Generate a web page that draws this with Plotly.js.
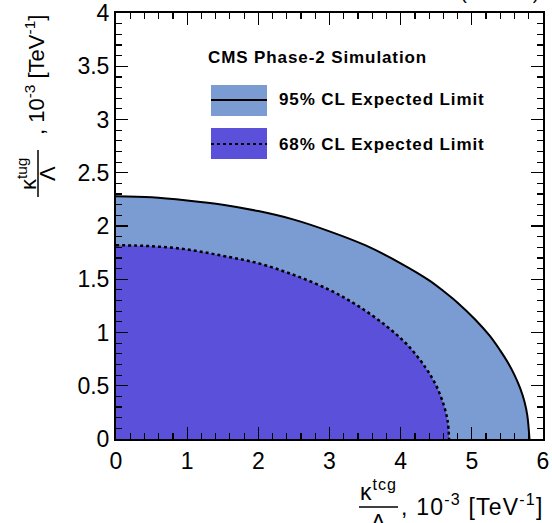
<!DOCTYPE html>
<html><head><meta charset="utf-8">
<script src="https://cdn.plot.ly/plotly-3.0.1.min.js"></script>
<style>
html,body{margin:0;padding:0;background:#fff}
#plot{width:552px;height:523px}
.annotation[data-index="0"] text,
.annotation[data-index="1"] text,
.annotation[data-index="2"] text{letter-spacing:0.9px}
.annotation[data-index="3"] text{letter-spacing:1px}
.annotation[data-index="4"] text{letter-spacing:1px}
.annotation[data-index="6"] text{letter-spacing:1.2px}
</style>
</head><body><div id="plot"></div>
<script>
// ---- data ----
const x95 = [0, 0.5, 1.0, 1.5, 2.0, 2.5, 3.0, 3.5, 4.0, 4.4, 4.6, 4.8, 5.05, 5.25, 5.4, 5.5, 5.6, 5.68, 5.74, 5.78, 5.81];
const y95 = [2.28, 2.27, 2.24, 2.20, 2.14, 2.06, 1.95, 1.82, 1.65, 1.49, 1.39, 1.28, 1.12, 0.97, 0.83, 0.725, 0.60, 0.475, 0.35, 0.22, 0];
const x68 = [0, 0.5, 1.0, 1.5, 2.0, 2.5, 3.0, 3.4, 3.8, 4.1, 4.35, 4.5, 4.6, 4.66, 4.68];
const y68 = [1.82, 1.81, 1.78, 1.72, 1.65, 1.54, 1.40, 1.25, 1.06, 0.88, 0.67, 0.50, 0.33, 0.17, 0];
const xTickVals = [0, 1, 2, 3, 4, 5, 6];
const xTickText = ['0', '1', '2', '3', '4', '5', '6'];
const yTickVals = [0, 0.5, 1, 1.5, 2, 2.5, 3, 3.5, 4];
const yTickText = ['0', '0.5', '1', '1.5', '2', '2.5', '3', '3.5', '4'];
const legendTitle = 'CMS Phase-2 Simulation';
const label95 = '95% CL Expected Limit';
const label68 = '68% CL Expected Limit';
const lumiText = '3000 fb<sup>-1</sup> (14 TeV)';
const xTitleNum = 'κ<sup>tcg</sup>';
const yTitleNum = 'κ<sup>tug</sup>';
const titleDen = 'Λ';
const titleUnit = ', 10<sup>-3</sup> [TeV<sup>-1</sup>]';

// ---- style ----
const color95 = '#7b9cd3';
const color68 = '#5a50da';
const FONT = 'Liberation Sans, Arial, Helvetica, sans-serif';
const W = 552, H = 523, L = 116, R = 543, T = 13, B = 439;
const px = v => (v - L) / (R - L);
const py = v => (B - v) / (B - T);

const traces = [
  {x: x95, y: y95, type: 'scatter', mode: 'lines', fill: 'tozeroy', fillcolor: color95,
   line: {color: 'black', width: 2, shape: 'spline', smoothing: 1}, hoverinfo: 'skip', showlegend: false},
  {x: x68, y: y68, type: 'scatter', mode: 'lines', fill: 'tozeroy', fillcolor: color68,
   line: {color: 'black', width: 2.5, dash: '3px,3px', shape: 'spline', smoothing: 1}, hoverinfo: 'skip', showlegend: false}
];

const axisCommon = {
  showgrid: false, zeroline: false, showline: true, linecolor: 'black', linewidth: 2,
  mirror: 'ticks', ticks: 'inside', ticklen: 12, tickwidth: 1.3, tickcolor: 'black',
  tickfont: {family: FONT, size: 23, color: 'black'}, tickmode: 'array'
};

const ann = (text, x, y, opts) => Object.assign({
  text: text, x: x, y: y, xref: 'paper', yref: 'paper', showarrow: false,
  xanchor: 'center', yanchor: 'middle', font: {family: FONT, size: 22, color: 'black'}
}, opts || {});

const legFont = {family: FONT, size: 17, color: 'black'};

const layout = {
  width: W, height: H,
  margin: {l: L, r: W - R, t: T, b: H - B, pad: 0},
  paper_bgcolor: 'white', plot_bgcolor: 'white',
  showlegend: false,
  xaxis: Object.assign({}, axisCommon, {range: [0, 6], tickvals: xTickVals, ticktext: xTickText,
    minor: {dtick: 0.2, tick0: 0, ticks: 'inside', ticklen: 6, tickwidth: 1.2, tickcolor: 'black'}}),
  yaxis: Object.assign({}, axisCommon, {range: [0, 4], tickvals: yTickVals, ticktext: yTickText,
    minor: {dtick: 0.1, tick0: 0, ticks: 'inside', ticklen: 6, tickwidth: 1.2, tickcolor: 'black'}}),
  shapes: [
    {type: 'rect', xref: 'paper', yref: 'paper', x0: px(211), x1: px(267), y0: py(116), y1: py(85),
     fillcolor: color95, line: {width: 0}},
    {type: 'line', xref: 'paper', yref: 'paper', x0: px(211), x1: px(267), y0: py(100), y1: py(100),
     line: {color: 'black', width: 2}},
    {type: 'rect', xref: 'paper', yref: 'paper', x0: px(211), x1: px(267), y0: py(159), y1: py(128),
     fillcolor: color68, line: {width: 0}},
    {type: 'line', xref: 'paper', yref: 'paper', x0: px(211), x1: px(267), y0: py(144), y1: py(144),
     line: {color: 'black', width: 2, dash: '3px,3px'}},
    // fraction bars of the axis titles
    {type: 'line', xref: 'paper', yref: 'paper', x0: px(359), x1: px(398), y0: py(507), y1: py(507),
     line: {color: 'black', width: 1.5}},
    {type: 'line', xref: 'paper', yref: 'paper', x0: px(38), x1: px(38), y0: py(150), y1: py(197),
     line: {color: 'black', width: 1.5}}
  ],
  annotations: [
    ann('<b>' + legendTitle + '</b>', px(206), py(57), {xanchor: 'left', align: 'left', font: legFont}),
    ann('<b>' + label95 + '</b>', px(277), py(100), {xanchor: 'left', align: 'left', font: legFont}),
    ann('<b>' + label68 + '</b>', px(277), py(144), {xanchor: 'left', align: 'left', font: legFont}),
    ann(lumiText, px(541), py(3.5), {xanchor: 'right', align: 'right', yanchor: 'bottom', borderpad: 0, font: {family: FONT, size: 19, color: 'black'}}),
    ann(xTitleNum, px(378), py(506), {yanchor: 'bottom', borderpad: 0, font: {family: FONT, size: 23, color: 'black'}}),
    ann(titleDen, px(378), py(508), {yanchor: 'top', borderpad: 0}),
    ann(titleUnit, px(399), py(505), {xanchor: 'left', align: 'left', font: {family: FONT, size: 23, color: 'black'}}),
    ann(yTitleNum, px(27), py(174), {textangle: -90, xanchor: 'center'}),
    ann(titleDen, px(47), py(174), {textangle: -90}),
    ann(titleUnit, px(35), py(75), {textangle: -90})
  ]
};

Plotly.newPlot('plot', traces, layout, {staticPlot: true, displayModeBar: false});
</script>
</body></html>
